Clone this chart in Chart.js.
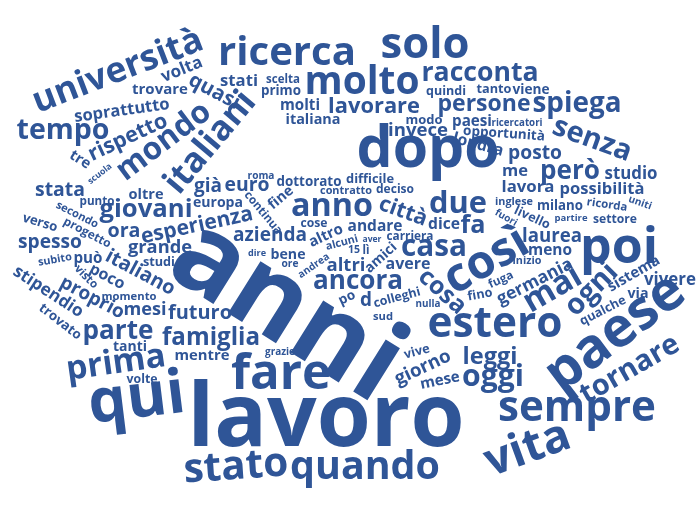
<!DOCTYPE html>
<html lang="it">

<head>
  <meta charset="UTF-8" />
  <title>Nuvola di parole</title>
  <script src="https://cdn.jsdelivr.net/npm/chart.js"></script>
  <style>
    html, body { margin: 0; padding: 0; background: #fff; }
    #nuvola { display: block; }
  </style>
</head>

<body>
  <canvas id="nuvola" width="700" height="513"></canvas>

  <script>
    // parole della nuvola, con centro (x, y), lunghezza della parola e rotazione in gradi
    const parole = ['università', 'volta', 'trovare', 'quasi', 'soprattutto', 'tempo', 'rispetto', 'tre', 'scuola', 'mondo',
      'italiani', 'ricerca', 'solo', 'stati', 'scelta', 'primo', 'molto', 'racconta', 'molti', 'lavorare',
      'italiana', 'quindi', 'persone', 'modo', 'invece', 'paesi', 'ricercatori', 'opportunità', 'londra', 'tanto',
      'viene', 'spiega', 'senza', 'posto', 'me', 'però', 'studio', 'lavora', 'possibilità', 'inglese',
      'milano', 'ricorda', 'uniti', 'fuori', 'livello', 'partire', 'settore', 'laurea', 'meno', 'inizio',
      'poi', 'così', 'germania', 'fuga', 'fino', 'mai', 'ogni', 'sistema', 'vivere', 'via',
      'qualche', 'paese', 'tornare', 'sempre', 'vita', 'leggi', 'oggi', 'estero', 'dopo', 'stata',
      'punto', 'oltre', 'già', 'euro', 'europa', 'secondo', 'verso', 'progetto', 'giovani', 'ora',
      'esperienza', 'grande', 'spesso', 'subito', 'può', 'italiano', 'studi', 'visto', 'poco', 'proprio',
      'stipendio', 'trovato', 'momento', 'mesi', 'futuro', 'parte', 'famiglia', 'prima', 'tanti', 'mentre',
      'volte', 'qui', 'lavoro', 'stato', 'quando', 'fare', 'grazie', 'vive', 'giorno', 'mese',
      'roma', 'dottorato', 'difficile', 'contratto', 'deciso', 'continua', 'fine', 'anno', 'città', 'due',
      'fa', 'dice', 'cose', 'andare', 'altro', 'azienda', 'alcuni', 'aver', 'carriera', 'casa',
      'dire', 'bene', 'ore', 'andrea', '15', 'lì', 'amici', 'altri', 'avere', 'ancora',
      'cosa', 'po', 'd', 'colleghi', 'nulla', 'sud', 'anni'];

    const posX = [118, 182, 160, 214, 122, 63, 128, 80, 100, 164,
      211, 287, 425, 239, 283, 281, 362, 480, 300, 374,
      313, 446, 484, 424, 418, 472, 517, 504, 478, 494,
      531, 577, 592, 535, 515, 570, 631, 528, 602, 514,
      560, 607, 640, 506, 532, 571, 615, 552, 550, 527,
      619, 487, 535, 501, 480, 553, 592, 634, 670, 638,
      603, 616, 630, 577, 528, 490, 493, 495, 428, 60,
      97, 146, 208, 247, 218, 77, 40, 87, 146, 124,
      197, 160, 50, 55, 88, 140, 159, 86, 107, 92,
      48, 60, 129, 145, 200, 118, 211, 116, 130, 202,
      142, 137, 326, 236, 365, 281, 280, 417, 423, 440,
      261, 309, 370, 346, 395, 263, 281, 332, 403, 458,
      473, 444, 314, 375, 326, 270, 342, 372, 410, 434,
      257, 288, 290, 314, 354, 366, 381, 346, 408, 358,
      442, 347, 366, 397, 428, 383, 285];

    const posY = [72, 70, 90, 92, 111, 131, 138, 160, 174, 142,
      143, 54, 46, 81, 80, 91, 84, 74, 106, 107,
      120, 92, 105, 120, 131, 122, 123, 134, 145, 90,
      90, 104, 140, 154, 172, 172, 174, 187, 190, 202,
      206, 205, 203, 218, 218, 218, 220, 237, 251, 261,
      249, 262, 282, 280, 295, 290, 290, 274, 280, 294,
      311, 334, 370, 410, 450, 358, 378, 326, 152, 191,
      202, 195, 187, 186, 203, 215, 223, 233, 210, 232,
      226, 248, 243, 260, 259, 273, 263, 277, 277, 298,
      292, 322, 297, 310, 314, 332, 338, 364, 347, 356,
      380, 401, 422, 468, 468, 376, 352, 352, 368, 381,
      176, 182, 180, 191, 190, 213, 198, 207, 212, 205,
      226, 225, 224, 227, 236, 236, 243, 240, 237, 248,
      254, 255, 264, 266, 250, 251, 258, 266, 265, 282,
      292, 298, 301, 298, 304, 317, 313];

    const lunghezze = [180, 43, 56, 55, 96, 93, 85, 22, 28, 110,
      122, 138, 89, 38, 34, 40, 115, 117, 40, 92,
      55, 40, 93, 37, 60, 40, 51, 82, 52, 35,
      37, 89, 82, 54, 26, 60, 53, 53, 85, 38,
      46, 41, 24, 24, 38, 33, 44, 60, 44, 29,
      78, 90, 83, 26, 25, 62, 62, 58, 52, 21,
      50, 160, 110, 158, 88, 55, 62, 135, 143, 50,
      35, 35, 28, 45, 50, 46, 36, 52, 93, 33,
      114, 64, 64, 34, 29, 76, 32, 28, 38, 70,
      80, 50, 55, 43, 64, 71, 98, 100, 34, 55,
      31, 97, 277, 105, 150, 100, 30, 26, 60, 40,
      27, 65, 48, 52, 38, 52, 28, 82, 50, 58,
      25, 32, 27, 55, 36, 74, 33, 19, 47, 66,
      18, 35, 17, 36, 12, 7, 38, 39, 45, 90,
      55, 17, 12, 48, 25, 20, 250];

    const rotazioni = [-21, -22, 0, 28, -8, 0, -25, 32, -38, -37,
      -50, 0, 0, 0, 0, 0, 0, 0, 0, 0,
      0, 0, 0, 0, 0, 0, 0, 4, 15, 0,
      0, 0, 20, 0, 0, 0, 0, 0, 0, 0,
      0, 8, 20, 30, 25, 0, 0, 0, 0, 0,
      0, -30, -27, -25, -10, -30, -45, -30, 0, 0,
      -27, -37, -30, 0, -20, 0, 0, 0, 0, 0,
      0, 0, 0, 0, 0, 27, 17, 28, 0, 0,
      -12, 0, 0, -10, 0, 28, 0, 45, 28, 28,
      33, 38, 0, 0, 0, 0, 0, -8, 0, 0,
      0, -7, 0, -4, 0, 0, 0, -15, -25, -12,
      0, 0, 0, 0, 0, 50, -40, 0, 20, 0,
      0, 0, 0, 0, -25, 0, -15, 0, 0, 0,
      0, 0, 0, -35, 0, 0, -42, 0, 0, 0,
      42, -25, 0, -15, 0, 0, 32];

    const colore = '#2F5597';
    const font = '"Open Sans", "Noto Sans", sans-serif';

    // disegna ogni parola sul punto calcolato dalle scale
    const disegnaParole = {
      id: 'disegnaParole',
      afterDatasetsDraw(chart) {
        const ctx = chart.ctx;
        const meta = chart.getDatasetMeta(0);
        const scalaX = chart.scales.x;
        const unita = Math.abs(scalaX.getPixelForValue(1) - scalaX.getPixelForValue(0));

        ctx.save();
        ctx.fillStyle = colore;
        ctx.textAlign = 'center';
        ctx.textBaseline = 'alphabetic';

        meta.data.forEach((punto, i) => {
          const parola = parole[i];
          ctx.font = 'bold 100px ' + font;
          const w100 = ctx.measureText(parola).width;
          const size = lunghezze[i] * unita / w100 * 100;

          ctx.save();
          ctx.translate(punto.x, punto.y);
          ctx.rotate(rotazioni[i] * Math.PI / 180);
          ctx.font = 'bold ' + size.toFixed(2) + 'px ' + font;
          ctx.fillText(parola, 0, size * 0.27);
          ctx.restore();
        });

        ctx.restore();
      }
    };

    const ctx = document.getElementById('nuvola').getContext('2d');

    const chart = new Chart(ctx, {
      type: 'scatter',
      data: {
        datasets: [{
          label: 'parole',
          data: parole.map((p, i) => ({ x: posX[i], y: posY[i] })),
          pointRadius: 0,
          pointHoverRadius: 0
        }]
      },
      options: {
        responsive: false,
        animation: false,
        layout: { padding: 0 },
        plugins: {
          legend: { display: false },
          tooltip: { enabled: false }
        },
        scales: {
          x: { type: 'linear', min: 0, max: 700, display: false },
          y: { type: 'linear', min: 0, max: 513, reverse: true, display: false }
        }
      },
      plugins: [disegnaParole]
    });
  </script>
</body>

</html>
